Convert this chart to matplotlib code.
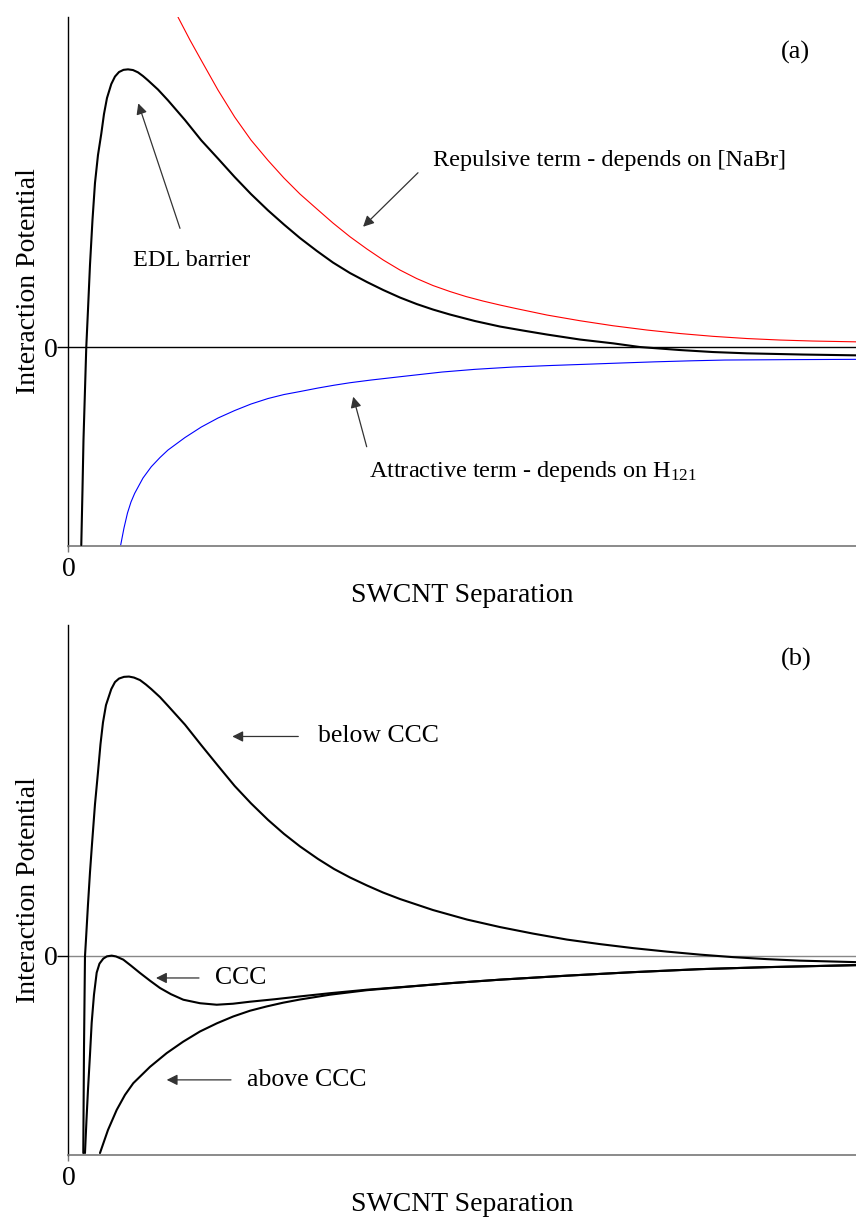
import matplotlib
matplotlib.use("Agg")
import matplotlib.pyplot as plt

plt.rcParams['font.family'] = ['Liberation Serif', 'DejaVu Serif']
plt.rcParams['mathtext.fontset'] = 'custom'
plt.rcParams['mathtext.rm'] = 'Liberation Serif'
plt.rcParams['mathtext.it'] = 'Liberation Serif:italic'

# ---- Panel (a): total interaction and its two terms (arbitrary units) ----
total_a_x = [12.8, 14.0, 15.0, 16.2, 17.8, 19.5, 21.5, 24.0, 26.5, 29.5, 32.8, 35.5,
             38.5, 42.8, 46.5, 50.5, 55.0, 59.5, 64.5, 69.5, 74.5, 79.5, 89.5, 99.5,
             116.5, 132.8, 149.5, 166.2, 182.5, 199.5, 215.5, 231.5, 248.5, 264.5,
             281.5, 298.5, 314.8, 331.5, 348.2, 364.5, 381.5, 406.5, 431.5, 454.5,
             478.5, 511.5, 544.5, 571.5, 611.5, 644.5, 678.5, 734.5, 787.5]
total_a_y = [-198, -143, -93, -53, 0, 37, 82, 127, 164, 192, 213.3, 233,
             249, 263, 270.5, 275, 277.2, 277.7, 277, 274.7, 271, 266.7, 257.5, 246.7,
             227, 206.7, 188.5, 170, 153, 136.7, 122.5, 109, 96, 84.5,
             74, 65, 57, 49.5, 43, 37.5, 32.5, 26, 20.5, 16.5,
             12.5, 7.5, 3.7, 0, -3, -5, -6.3, -7.5, -8.3]

repulsive_x = [109.5, 121.5, 132.8, 149.5, 166.2, 182.5, 199.5, 215.5, 231.5, 248.5,
               264.5, 281.5, 298.5, 314.8, 331.5, 348.2, 364.5, 381.5, 397.5, 414.5,
               431.5, 447.5, 478.5, 511.5, 544.5, 578.5, 611.5, 644.5, 678.5, 711.5,
               744.5, 787.5]
repulsive_y = [330, 307, 286.7, 257, 230, 207, 186.7, 169, 153, 138,
               124, 110.3, 98, 87, 77, 68.5, 61.5, 55.5, 50.5, 46,
               42, 38.5, 32, 26.3, 21.3, 17, 13.5, 10.7, 8.5, 7,
               6, 5.2]

attractive_x = [52.2, 55.5, 59.0, 62.5, 66.2, 74.5, 82.8, 91.5, 99.5, 116.5, 132.8,
                149.5, 166.2, 182.5, 199.5, 215.5, 231.5, 249.5, 265.5, 281.5, 302.5,
                331.5, 373.5, 406.5, 444.5, 481.5, 515.5, 551.5, 586.5, 621.5, 656.5,
                721.5, 787.5]
attractive_y = [-198, -181, -166, -155, -146.3, -131, -119.7, -110.5, -103, -90.5, -80,
                -71, -63.5, -57, -51.5, -47.5, -44.5, -41, -38.2, -35.7, -33,
                -29.7, -25, -22.3, -20, -18.5, -17.3, -16, -14.8, -13.8, -13,
                -12.6, -12.3]

# ---- Panel (b): total interaction at three salt concentrations ----
below_x = [14.8, 15.5, 16.5, 17.5, 19.5, 21.5, 23.5, 26.5, 29.5, 32.0, 34.5, 37.5,
           42.8, 46.5, 50.5, 55.5, 60.5, 65.5, 71.5, 77.5, 82.8, 91.5, 99.5, 116.5,
           132.8, 149.5, 166.2, 182.5, 199.5, 215.5, 231.5, 249.5, 265.5, 281.5,
           298.5, 314.5, 331.5, 364.5, 398.5, 431.5, 464.5, 498.5, 531.5, 564.5,
           598.5, 631.5, 664.5, 698.5, 731.5, 787.5]
below_y = [-197, -94, -0.7, 16, 51, 83, 111, 151, 183, 211, 232.7, 250,
           266, 273, 276.5, 278.2, 278.5, 277.5, 275, 270.5, 266, 258, 249.3, 230.5,
           210, 189.5, 169.3, 152, 135.5, 121.5, 109, 96.5, 86.5, 78,
           70, 63, 56.5, 45.5, 36, 28.5, 22, 16, 11.5, 7.5,
           4, 1, -1.5, -3.5, -5, -6.5]

ccc_x = [16.5, 18.0, 19.5, 21.5, 23.2, 25.5, 28.2, 31.0, 34.8, 38.5, 43.2, 47.5,
         54.8, 62.5, 71.5, 81.5, 91.5, 102.5, 114.8, 131.5, 148.2, 164.5, 181.5,
         206.5, 231.5, 261.5, 298.5, 331.5, 381.5, 431.5, 498.5, 564.5, 631.5,
         698.5, 787.5]
ccc_y = [-197, -164, -134, -99, -67, -39, -17, -8, -3, -0.7, 0, -0.8,
         -4, -10, -17.3, -25, -32.3, -38.5, -44, -47.5, -49, -48, -46,
         -43.5, -40.7, -37.5, -34, -31.5, -27.5, -24, -20, -16.5, -13.5,
         -11.5, -9.5]

above_x = [31.5, 39.5, 48.2, 56.5, 64.8, 81.5, 98.2, 114.5, 131.5, 148.5, 164.8,
           181.5, 198.2, 214.5, 231.5, 261.5, 298.5, 331.5, 381.5, 431.5, 498.5,
           564.5, 631.5, 698.5, 787.5]
above_y = [-197, -174, -154, -139, -127.3, -111, -97.3, -86, -75.7, -67.5, -60.7,
           -55, -50.7, -47, -43.8, -39, -34.5, -31.7, -27.5, -24, -20,
           -16.5, -13.5, -11.5, -9.5]

X_MAX = 787.5
Y_MIN, Y_MAX = -199, 330

fig = plt.figure(figsize=(8.56, 12.18), dpi=100)
ax_a = fig.add_axes([0.080, 0.5517, 0.920, 0.4343])
ax_b = fig.add_axes([0.080, 0.0517, 0.920, 0.4352])

AX_FS = 20
ARROW = dict(arrowstyle='-|>', color='#333333', lw=0.9, mutation_scale=16,
             shrinkA=0, shrinkB=0)
CURVE = dict(solid_joinstyle='round', solid_capstyle='round')


def style_axes(ax, zero_color):
    ax.set_xlim(0, X_MAX)
    ax.set_ylim(Y_MIN, Y_MAX)
    ax.spines['top'].set_visible(False)
    ax.spines['right'].set_visible(False)
    ax.spines['left'].set_linewidth(1.0)
    ax.spines['bottom'].set_color('#777777')
    ax.spines['bottom'].set_linewidth(1.2)
    ax.axhline(0, color=zero_color, lw=1.0, zorder=1)
    ax.set_yticks([0])
    ax.set_yticklabels(['0'], fontsize=AX_FS)
    ax.set_xticks([0])
    ax.set_xticklabels(['0'], fontsize=AX_FS)
    ax.tick_params(axis='y', length=8, width=1.0, pad=0)
    ax.tick_params(axis='x', length=4, width=1.0, color='#777777', pad=4)
    ax.set_ylabel('Interaction Potential', fontsize=AX_FS, labelpad=2)
    ax.set_xlabel('SWCNT Separation', fontsize=AX_FS, labelpad=0.6)


# Panel (a)
FS_A = 17.5
style_axes(ax_a, 'black')
ax_a.plot(repulsive_x, repulsive_y, color='red', lw=0.8, zorder=2, **CURVE)
ax_a.plot(attractive_x, attractive_y, color='blue', lw=0.8, zorder=2, **CURVE)
ax_a.plot(total_a_x, total_a_y, color='black', lw=1.5, zorder=3, **CURVE)
ax_a.text(0.904, 0.933, '(a)', transform=ax_a.transAxes, fontsize=19,
          ha='left', va='center')
ax_a.annotate('', xy=(69.8, 243.7), xytext=(111.5, 118.7), arrowprops=ARROW)
ax_a.text(123.5, 87, 'EDL barrier', fontsize=FS_A, ha='center', va='center')
ax_a.annotate('', xy=(294.6, 120.3), xytext=(349.5, 174.3), arrowprops=ARROW)
ax_a.text(364.5, 187, 'Repulsive term - depends on [NaBr]', fontsize=FS_A,
          ha='left', va='center')
ax_a.annotate('', xy=(284.7, -49.7), xytext=(298.2, -99.7), arrowprops=ARROW)
ax_a.text(300.5, -124.7, r'Attractive term - depends on H$_{\mathrm{121}}$',
          fontsize=FS_A, ha='left', va='center')

# Panel (b)
FS_B = 18.5
style_axes(ax_b, '#888888')
ax_b.plot(below_x, below_y, color='black', lw=1.5, zorder=3, **CURVE)
ax_b.plot(ccc_x, ccc_y, color='black', lw=1.5, zorder=3, **CURVE)
ax_b.plot(above_x, above_y, color='black', lw=1.5, zorder=3, **CURVE)
ax_b.text(0.904, 0.934, '(b)', transform=ax_b.transAxes, fontsize=19,
          ha='left', va='center')
ax_b.annotate('', xy=(163.8, 218.7), xytext=(229.8, 218.7), arrowprops=ARROW)
ax_b.text(249.5, 218.7, 'below CCC', fontsize=FS_B, ha='left', va='center')
ax_b.annotate('', xy=(87.5, -22.3), xytext=(130.5, -22.3), arrowprops=ARROW)
ax_b.text(146.5, -22.3, 'CCC', fontsize=FS_B, ha='left', va='center')
ax_b.annotate('', xy=(98.2, -124), xytext=(162.5, -124), arrowprops=ARROW)
ax_b.text(178.2, -124, 'above CCC', fontsize=FS_B, ha='left', va='center')

fig.savefig('out.png', dpi=100, facecolor='white')
